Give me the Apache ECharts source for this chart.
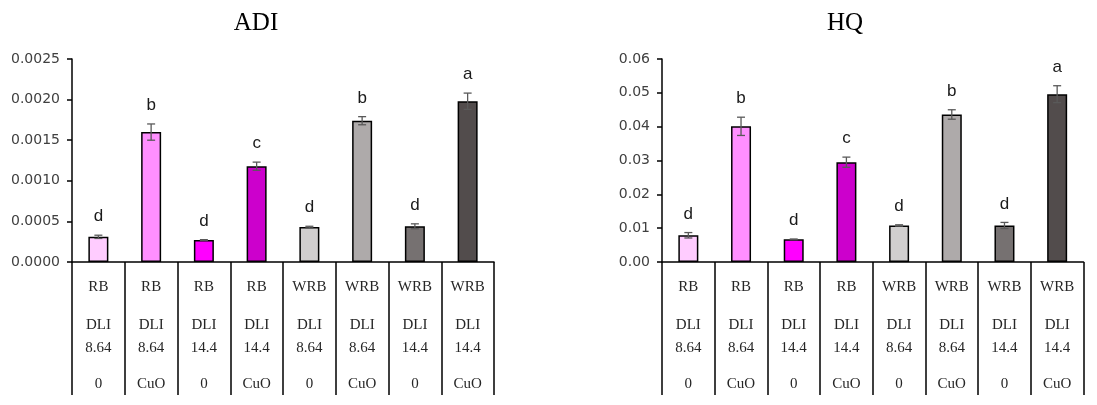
<!DOCTYPE html>
<html>
<head>
<meta charset="utf-8">
<script src="https://cdn.jsdelivr.net/npm/echarts@6/dist/echarts.min.js"></script>
<style>html,body{margin:0;padding:0;background:#fff;}#c{width:1097px;height:405px;}</style>
</head>
<body>
<div id="c"></div>
<script>
const lights = ['RB','RB','RB','RB','WRB','WRB','WRB','WRB'];
const dlis = ['8.64','8.64','14.4','14.4','8.64','8.64','14.4','14.4'];
const treats = ['0','CuO','0','CuO','0','CuO','0','CuO'];
const barColors = ['#FFCCFF','#FF8FFF','#FF00FF','#CC00CC','#D0CECE','#AEAAAA','#767171','#524C4C'];
const adiValues = [0.00031, 0.00160, 0.00027, 0.00118, 0.00043, 0.00174, 0.00044, 0.00198];
const adiErrors = [0.00002, 0.00010, 0.000005, 0.00005, 0.00001, 0.00005, 0.00003, 0.00010];
const adiLetters = ['d','b','d','c','d','b','d','a'];
const hqValues = [0.0079, 0.0401, 0.0067, 0.0295, 0.0108, 0.0436, 0.0108, 0.0496];
const hqErrors = [0.0008, 0.0027, 0.0001, 0.0015, 0.0002, 0.0014, 0.0009, 0.0025];
const hqLetters = ['d','b','d','c','d','b','d','a'];
const adiTicks = { min: 0, max: 0.0025, interval: 0.0005, digits: 4 };
const hqTicks = { min: 0, max: 0.06, interval: 0.01, digits: 2 };

const cats = lights.map((l, i) => i);

function xAxisFor(gi) {
  return {
    type: 'category', gridIndex: gi, data: cats,
    axisLine: { lineStyle: { color: '#000', width: 1.5 } },
    axisTick: { show: true, length: 133, interval: 0, lineStyle: { color: '#000', width: 1.5 } },
    axisLabel: {
      interval: 0, margin: 0,
      formatter: function (v, i) {
        return '{a|' + lights[i] + '}\n{b|DLI}\n{b|' + dlis[i] + '}\n{d|' + treats[i] + '}';
      },
      rich: {
        a: { fontFamily: 'Liberation Serif', fontSize: 15, color: '#262626', lineHeight: 51 },
        b: { fontFamily: 'Liberation Serif', fontSize: 15, color: '#262626', lineHeight: 23.7 },
        d: { fontFamily: 'Liberation Serif', fontSize: 15, color: '#262626', lineHeight: 47.5 }
      }
    }
  };
}
function yAxisFor(gi, t) {
  return {
    type: 'value', gridIndex: gi, min: t.min, max: t.max, interval: t.interval,
    splitLine: { show: false },
    axisLine: { show: true, lineStyle: { color: '#000', width: 1.5 } },
    axisTick: { show: true, length: 5, lineStyle: { color: '#000', width: 1.5 } },
    axisLabel: {
      margin: 12, color: '#404040', fontFamily: 'DejaVu Sans', fontSize: 14,
      formatter: v => v.toFixed(t.digits)
    }
  };
}
function barSeries(gi, vals) {
  return {
    type: 'bar', xAxisIndex: gi, yAxisIndex: gi, barWidth: 20,
    data: vals.map((v, i) => ({ value: v, itemStyle: { color: barColors[i] } })),
    itemStyle: { borderColor: '#000', borderWidth: 1.5 },
    silent: true, animation: false
  };
}
function errSeries(gi, vals, errs, letters) {
  return {
    type: 'custom', xAxisIndex: gi, yAxisIndex: gi, z: 10, animation: false, silent: true,
    data: vals.map((v, i) => [i, v, errs[i]]),
    renderItem: function (params, api) {
      const x = api.value(0), v = api.value(1), e = api.value(2);
      const top = api.coord([x, v + e]);
      const bot = api.coord([x, v - e]);
      const cw = 4;
      const st = { stroke: '#595959', lineWidth: 1.3 };
      return {
        type: 'group',
        children: [
          { type: 'line', shape: { x1: top[0], y1: top[1], x2: bot[0], y2: bot[1] }, style: st },
          { type: 'line', shape: { x1: top[0] - cw, y1: top[1], x2: top[0] + cw, y2: top[1] }, style: st },
          { type: 'line', shape: { x1: bot[0] - cw, y1: bot[1], x2: bot[0] + cw, y2: bot[1] }, style: st },
          { type: 'text', style: { text: letters[params.dataIndex], x: top[0], y: top[1] - 10,
              align: 'center', verticalAlign: 'bottom', fill: '#1a1a1a',
              font: '17px "Liberation Sans"' } }
        ]
      };
    }
  };
}

const chart = echarts.init(document.getElementById('c'), null, { renderer: 'canvas' });
chart.setOption({
  animation: false,
  title: [
    { text: 'ADI', left: 251, top: 6, textAlign: 'center',
      textStyle: { fontFamily: 'Liberation Serif', fontSize: 25, fontWeight: 'normal', color: '#000' } },
    { text: 'HQ', left: 840, top: 6, textAlign: 'center',
      textStyle: { fontFamily: 'Liberation Serif', fontSize: 25, fontWeight: 'normal', color: '#000' } }
  ],
  grid: [
    { left: 72, top: 59, width: 422, height: 203 },
    { left: 662, top: 59, width: 421.5, height: 203 }
  ],
  xAxis: [xAxisFor(0), xAxisFor(1)],
  yAxis: [yAxisFor(0, adiTicks), yAxisFor(1, hqTicks)],
  series: [
    barSeries(0, adiValues), errSeries(0, adiValues, adiErrors, adiLetters),
    barSeries(1, hqValues), errSeries(1, hqValues, hqErrors, hqLetters)
  ]
});
</script>
</body>
</html>
